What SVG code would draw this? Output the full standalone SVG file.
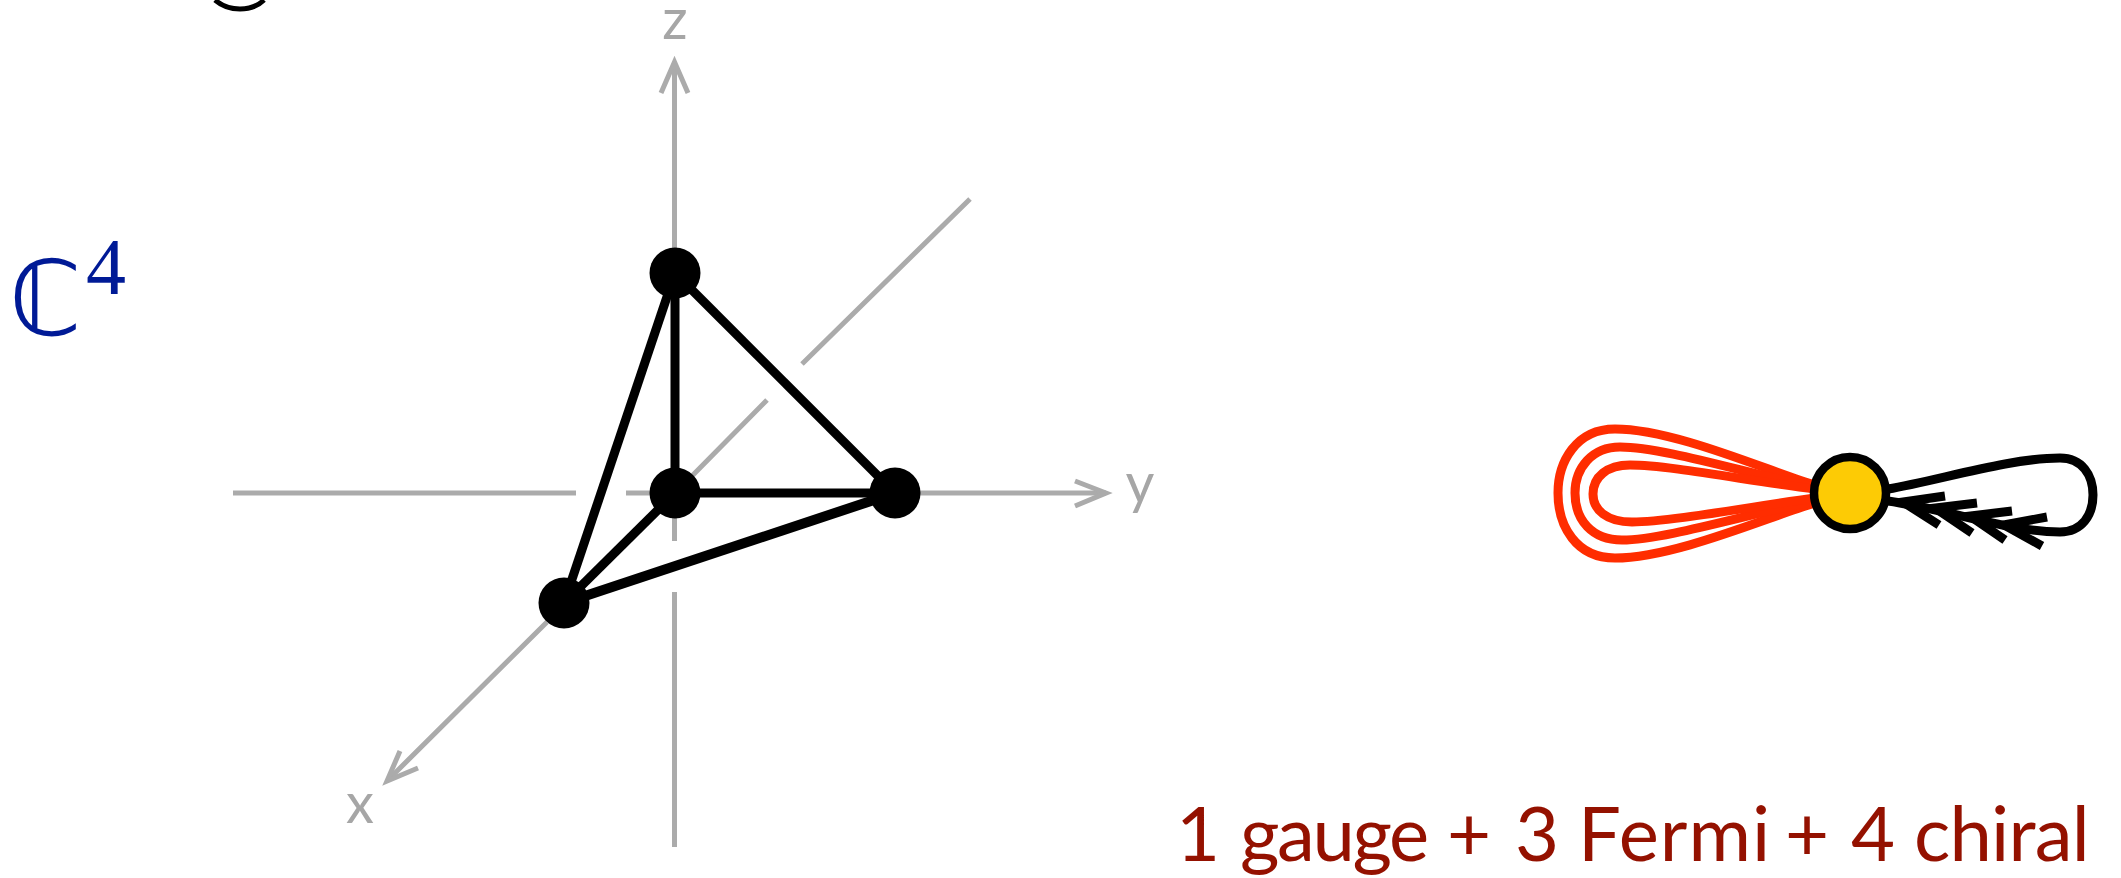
<svg xmlns="http://www.w3.org/2000/svg" width="2121" height="878" viewBox="0 0 2121 878">
<style>
.ax{fill:none;stroke:#ababab;stroke-width:5}
.axh{fill:none;stroke:#ababab;stroke-width:5;stroke-linejoin:miter}
.axl{font-family:"Lato","Noto Sans",sans-serif;font-size:56px;fill:#a6a6a6;text-anchor:middle}
.e{stroke:#000;stroke-width:9;fill:none}
.v{fill:#000}
.r{fill:none;stroke:#ff2d00;stroke-width:9}
.k{fill:none;stroke:#000;stroke-width:9}
</style>
<rect width="2121" height="878" fill="#fff"/>
<path id="fragment" d="M215,0C222,6 231,9 240,9C249,9 258,6 264,0" fill="none" stroke="#000" stroke-width="5"/>
<g id="axes">
<path class="ax" d="M674.5,62V248"/>
<path class="axh" d="M661,93L674.5,62L688,93"/>
<path class="ax" d="M674.5,518V541M674.5,592V847"/>
<path class="ax" d="M233,493H576M626,493H650M920,493H1106"/>
<path class="axh" d="M1075,481L1106,493L1075,506"/>
<path class="ax" d="M970,199L802,364M767,400L690,478M547,622L388,780"/>
<path class="axh" d="M400,751L387,781L418,768"/>
<text class="axl" x="675" y="39">z</text>
<text class="axl" x="1140" y="503">y</text>
<text class="axl" x="360" y="823">x</text>
</g>
<g id="connectors">
<path class="e" d="M675,273V493"/>
<path class="e" d="M675,273L895,493"/>
<path class="e" d="M675,273L564,603"/>
<path class="e" d="M675,493L564,603"/>
<path class="e" d="M675,493H895"/>
<path class="e" style="stroke-width:10" d="M895,493L564,603"/>
</g>
<g id="node-z"><circle class="v" cx="675" cy="273" r="25.5"/></g>
<g id="node-o"><circle class="v" cx="675" cy="493" r="25.5"/></g>
<g id="node-y"><circle class="v" cx="895" cy="493" r="25.5"/></g>
<g id="node-x"><circle class="v" cx="564" cy="603" r="25.5"/></g>
<g id="label-c4" fill="#001a96">
<text x="9" y="335" font-size="104" font-family="'DejaVu Sans',sans-serif">ℂ</text>
<text x="86" y="294" font-size="80" font-family="'Liberation Serif',serif">4</text>
</g>
<g id="loops">
<path class="r" d="M1815,485C1770,472 1675,429 1615,429C1576,429 1558,462 1558,493C1558,526 1576,558 1615,558C1675,558 1770,516 1815,503"/>
<path class="r" d="M1815,487C1755,476 1665,447 1620,447C1592,447 1575,468 1575,493C1575,520 1592,540 1622,540C1665,540 1755,512 1815,501"/>
<path class="r" d="M1815,489C1755,482 1670,465 1630,465C1607,465 1593,477 1593,494C1593,510 1607,522 1632,522C1670,522 1755,506 1815,498"/>
<path class="k" d="M1888,489C1940,480 2010,458 2060,458C2082,458 2093,475 2093,495C2093,515 2082,532 2060,532C2010,532 1950,510 1888,501"/>
<path class="k" d="M1945,496L1903,502L1939,525M1977,503L1935,508L1972,533M2012,511L1970,516L2005,540M2047,517L2004,525L2042,546"/>
</g>
<g id="node-gauge"><circle cx="1850" cy="493" r="36" fill="#fdcb05" stroke="#000" stroke-width="8.5"/></g>
<text id="caption" y="861" font-family="Lato,'Noto Sans',sans-serif" font-size="76" fill="#941100"><tspan x="1176">1</tspan> <tspan x="1240" letter-spacing="-2.4">gauge</tspan> <tspan x="1447">+</tspan> <tspan x="1515">3</tspan> <tspan x="1578" letter-spacing="1">Fermi</tspan> <tspan x="1785">+</tspan> <tspan x="1851">4</tspan> <tspan x="1914" letter-spacing="-0.8">chiral</tspan></text>
</svg>
